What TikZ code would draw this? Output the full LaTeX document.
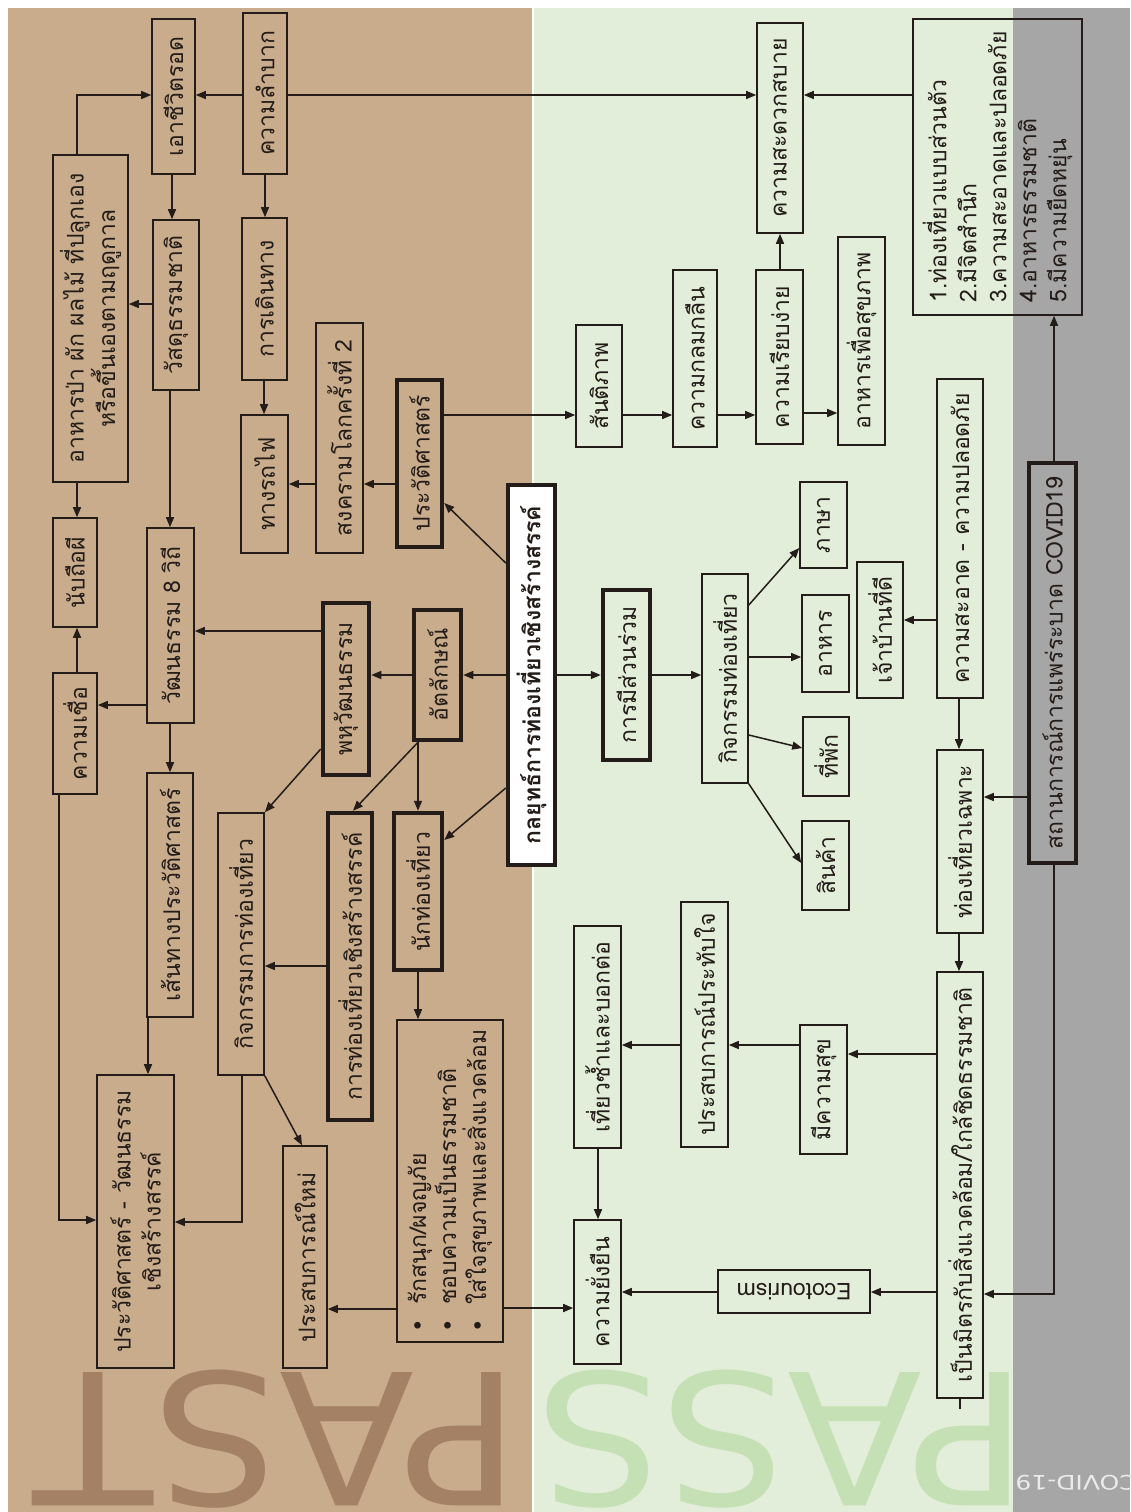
\documentclass[tikz,border=0pt]{standalone}
\usepackage{fontspec}
\setmainfont{Loma}[Script=Thai]
\newfontfamily\dejavu{DejaVu Sans}
\usetikzlibrary{arrows.meta}
\definecolor{brownbg}{RGB}{200,172,140}
\definecolor{greenbg}{RGB}{226,238,217}
\definecolor{graybg}{RGB}{166,166,166}
\definecolor{pastc}{RGB}{164,129,101}
\definecolor{passc}{RGB}{198,224,181}
\definecolor{ink}{RGB}{35,28,24}
\tikzset{
 box/.style={draw=ink, line width=1.6pt, rotate=90, inner sep=0pt, text=ink,
   font=\fontsize{23}{30}\selectfont, align=center},
 tbox/.style={line width=4.5pt},
 arr/.style={draw=ink, line width=1.5pt, -{Triangle[length=10pt,width=8pt]}},
 big/.style={rotate=180, anchor=base west, inner sep=0pt, xscale=1.08,
   font=\dejavu\fontsize{183}{183}\selectfont},
}
% [style]{name}{x1}{y1}{x2}{y2}{text}
\newcommand\bx[7][]{%
 \node[box,#1,minimum width={#6-#4},minimum height={#5-#3}] (#2) at ({(#3+#5)/2},{(#4+#6)/2}) {#7};}
\begin{document}
\begin{tikzpicture}[x=1pt,y=-1pt]
\useasboundingbox (0,0) rectangle (1130,1512);
\fill[white] (0,0) rectangle (1130,1512);
\fill[brownbg] (8,8) rectangle (532,1512);
\fill[greenbg] (534,8) rectangle (1013,1512);
\node[big,text=pastc] (past) at (521,1372) {PAST};
\node[big,text=passc] (pass) at (1029,1372) {PASS};
\fill[graybg] (1013,8) rectangle (1130,1512);
\node[rotate=180, anchor=base west, inner sep=0pt, xscale=1.25, text=white!92!black,
  font=\dejavu\fontsize{20}{20}\selectfont] (covidlbl) at (1137,1475) {COVID-19};

% brown region
\bx{survive}{152}{19}{195}{174}{เอาชีวิตรอด}
\bx{hardship}{243}{13}{287}{174}{ความลำบาก}
\bx{wildfood}{53}{155}{128}{482}{อาหารป่า ผัก ผลไม้ ที่ปลูกเอง\\หรือขึ้นเองตามฤดูกาล}
\bx{natmat}{153}{220}{199}{390}{วัสดุธรรมชาติ}
\bx{travel}{242}{218}{287}{380}{การเดินทาง}
\bx{ww2}{316}{323}{363}{553}{สงครามโลกครั้งที่ 2}
\bx{ghost}{53}{518}{97}{627}{นับถือผี}
\bx{culture8}{147}{528}{194}{723}{วัฒนธรรม 8 วิถี}
\bx{railway}{241}{415}{288}{553}{ทางรถไฟ}
\bx[tbox]{multi}{323}{603}{369}{775}{พหุวัฒนธรรม}
\bx{belief}{53}{673}{97}{794}{ความเชื่อ}
\bx[tbox]{history}{397}{380}{442}{547}{ประวัติศาสตร์}
\bx[tbox]{identity}{414}{610}{461}{740}{อัตลักษณ์}
\bx[tbox,fill=white,font=\fontsize{23}{30}\selectfont\bfseries]{central}{508}{485}{555}{865}{กลยุทธ์การท่องเที่ยวเชิงสร้างสรรค์}
\bx[tbox]{tourist}{394}{813}{442}{970}{นักท่องเที่ยว}
\bx{route}{147}{773}{193}{1017}{เส้นทางประวัติศาสตร์}
\bx{activity}{218}{813}{264}{1075}{กิจกรรมการท่องเที่ยว}
\bx[tbox]{creative}{328}{813}{372}{1120}{การท่องเที่ยวเชิงสร้างสรรค์}
\bx{histcult}{97}{1075}{174}{1368}{ประวัติศาสตร์ - วัฒนธรรม\\เชิงสร้างสรรค์}
\bx{newexp}{283}{1146}{327}{1368}{ประสบการณ์ใหม่}
\bx[align=left]{traits}{397}{1020}{503}{1342}{{\dejavu •}\hspace{14pt}รักสนุก/ผจญภัย\\{\dejavu •}\hspace{14pt}ชอบความเป็นธรรมชาติ\\{\dejavu •}\hspace{14pt}ใส่ใจสุขภาพและสิ่งแวดล้อม}

% green region
\bx{peace}{576}{325}{622}{447}{สันติภาพ}
\bx{harmony}{673}{270}{717}{447}{ความกลมกลืน}
\bx{simple}{756}{270}{803}{444}{ความเรียบง่าย}
\bx{comfort}{757}{23}{803}{233}{ความสะดวกสบาย}
\bx{healthfood}{838}{237}{885}{445}{อาหารเพื่อสุขภาพ}
\bx[tbox]{particip}{603}{590}{650}{760}{การมีส่วนร่วม}
\bx{tactivity}{702}{574}{748}{783}{กิจกรรมท่องเที่ยว}
\bx{lang}{800}{482}{847}{568}{ภาษา}
\bx{food}{802}{595}{849}{692}{อาหาร}
\bx{host}{857}{562}{903}{698}{เจ้าบ้านที่ดี}
\bx{clean}{937}{379}{983}{698}{ความสะอาด - ความปลอดภัย}
\bx{lodging}{803}{717}{849}{796}{ที่พัก}
\bx{goods}{802}{821}{849}{910}{สินค้า}
\bx{special}{937}{750}{983}{933}{ท่องเที่ยวเฉพาะ}
\bx{ecofriendly}{937}{972}{983}{1398}{เป็นมิตรกับสิ่งแวดล้อม/ใกล้ชิดธรรมชาติ}
\bx{happy}{800}{1025}{847}{1154}{มีความสุข}
\bx{impress}{681}{902}{728}{1147}{ประสบการณ์ประทับใจ}
\bx{revisit}{574}{926}{621}{1148}{เที่ยวซ้ำและบอกต่อ}
\bx{sustain}{574}{1220}{621}{1364}{ความยั่งยืน}
\node[box,rotate=90,minimum width=152pt,minimum height=43pt] (eco) at (794,1291.5) {Ecotourism};
\bx[align=left]{list}{913}{19}{1082}{315}{1.ท่องเที่ยวแบบส่วนตัว\\2.มีจิตสำนึก\\3.ความสะอาดและปลอดภัย\\4.อาหารธรรมชาติ\\5.มีความยืดหยุ่น}
\bx[tbox,fill=graybg]{covid}{1029}{463}{1076}{863}{สถานการณ์การแพร่ระบาด COVID19}

% connectors
\draw[arr] (hardship.north |- 0,95) -- (survive.south |- 0,95);
\draw[arr] (hardship.south |- 0,95) -- (comfort.north |- 0,95);
\draw[arr] (list.north |- 0,95) -- (comfort.south |- 0,95);
\draw[arr] (wildfood.east -| 77,0) |- (survive.north |- 0,95);
\draw[arr] (survive.west -| 172,0) -- (natmat.east -| 172,0);
\draw[arr] (natmat.north |- 0,304) -- (wildfood.south |- 0,304);
\draw[arr] (hardship.west -| 265,0) -- (travel.east -| 265,0);
\draw[arr] (travel.west -| 264,0) -- (railway.east -| 264,0);
\draw[arr] (natmat.west -| 170,0) -- (culture8.east -| 170,0);
\draw[arr] (wildfood.west -| 77,0) -- (ghost.east -| 77,0);
\draw[arr] (ww2.north |- 0,484) -- (railway.south |- 0,484);
\draw[arr] (history.north |- 0,484) -- (ww2.south |- 0,484);
\draw[arr] (history.south |- 0,415) -- (peace.north |- 0,415);
\draw[arr] (peace.south |- 0,415) -- (harmony.north |- 0,415);
\draw[arr] (harmony.south |- 0,415) -- (simple.north |- 0,415);
\draw[arr] (simple.south |- 0,413) -- (healthfood.north |- 0,413);
\draw[arr] (simple.east -| 780,0) -- (comfort.west -| 780,0);
\draw[arr] (central.north |- 0,563) -- (history.south |- 0,503);
\draw[arr] (central.north |- 0,675) -- (identity.south |- 0,675);
\draw[arr] (identity.north |- 0,675) -- (multi.south |- 0,675);
\draw[arr] (multi.north |- 0,631) -- (culture8.south |- 0,631);
\draw[arr] (culture8.north |- 0,705) -- (belief.south |- 0,705);
\draw[arr] (belief.east -| 77,0) -- (ghost.west -| 77,0);
\draw[arr] (central.south |- 0,675) -- (particip.north |- 0,675);
\draw[arr] (particip.south |- 0,675) -- (tactivity.north |- 0,675);
\draw[arr] (identity.west -| 418,0) -- (tourist.east -| 418,0);
\draw[arr] (identity.west -| 418,0) -- (creative.east -| 353,0);
\draw[arr] (central.north |- 0,788) -- (tourist.south |- 0,840);
\draw[arr] (multi.north |- 0,749) -- (activity.south east);
\draw[arr] (creative.north |- 0,966) -- (activity.south |- 0,966);
\draw[arr] (culture8.west -| 170,0) -- (route.east -| 170,0);
\draw[arr] (route.west -| 148,0) -- (histcult.east -| 148,0);
\draw[arr] (belief.west -| 59,0) |- (histcult.north |- 0,1220);
\draw[arr] (activity.west -| 242,0) |- (histcult.south |- 0,1222);
\draw[arr] (activity.south west) -- (newexp.east -| 302,0);
\draw[arr] (tourist.west -| 418,0) -- (traits.east -| 418,0);
\draw[arr] (traits.north |- 0,1309) -- (newexp.south |- 0,1309);
\draw[arr] (traits.south |- 0,1308) -- (sustain.north |- 0,1308);
\draw[arr] (revisit.west -| 598,0) -- (sustain.east -| 598,0);
\draw[arr] (impress.north |- 0,1045) -- (revisit.south |- 0,1045);
\draw[arr] (happy.north |- 0,1045) -- (impress.south |- 0,1045);
\draw[arr] (ecofriendly.north |- 0,1054) -- (happy.south |- 0,1054);
\draw[arr] (eco.east |- 0,1292) -- (sustain.south |- 0,1292);
\draw[arr] (ecofriendly.north |- 0,1292) -- (eco.west |- 0,1292);
\draw[arr] (covid.west -| 1054,0) |- (ecofriendly.south |- 0,1294);
\draw[arr] (covid.east -| 1054,0) -- (list.west -| 1054,0);
\draw[arr] (covid.north |- 0,797) -- (special.south |- 0,797);
\draw[arr] (clean.west -| 959,0) -- (special.east -| 959,0);
\draw[arr] (special.west -| 959,0) -- (ecofriendly.east -| 959,0);
\draw[arr] (clean.north |- 0,620) -- (host.south |- 0,620);
\draw[arr] (tactivity.south |- 0,605) -- (lang.north |- 0,548);
\draw[arr] (tactivity.south |- 0,657) -- (food.north |- 0,657);
\draw[arr] (tactivity.south |- 0,735) -- (lodging.north |- 0,748);
\draw[arr] (tactivity.south west) -- (goods.north |- 0,863);
\draw[draw=ink, line width=1.5pt] (ecofriendly.west -| 960,0) -- ++(0,10);
\end{tikzpicture}
\end{document}
